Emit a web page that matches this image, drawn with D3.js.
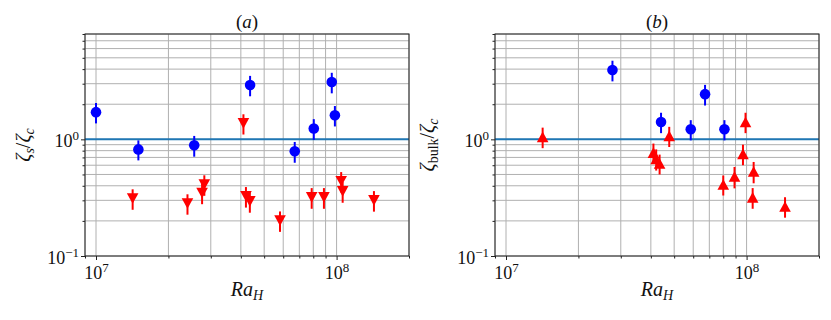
<!DOCTYPE html>
<html>
<head>
<meta charset="utf-8">
<script src="https://cdn.jsdelivr.net/npm/d3@7"></script>
<style>
  body { margin: 0; background: #fff; }
</style>
</head>
<body>
<div id="chart"></div>
<script>
// panel (a): zeta_s / zeta_c
var blueAx = [1.0e7, 1.5e7, 2.56e7, 4.37e7, 6.7e7, 8.04e7, 9.55e7, 9.84e7];
var blueAy = [1.71, 0.82, 0.89, 2.92, 0.79, 1.24, 3.1, 1.61];
var blueAerr = [0.34, 0.16, 0.18, 0.58, 0.16, 0.25, 0.62, 0.32];
var redAx = [1.42e7, 2.40e7, 2.76e7, 2.82e7, 4.1e7, 4.2e7, 4.36e7, 5.82e7, 7.88e7, 8.86e7, 1.045e8, 1.06e8, 1.43e8];
var redAy = [0.311, 0.282, 0.347, 0.41, 1.37, 0.325, 0.294, 0.201, 0.318, 0.318, 0.437, 0.358, 0.30];
var redAerr = [0.062, 0.056, 0.069, 0.082, 0.27, 0.065, 0.059, 0.04, 0.064, 0.064, 0.087, 0.072, 0.06];

// panel (b): zeta_bulk / zeta_c
var blueBx = [2.77e7, 4.41e7, 5.86e7, 6.72e7, 8.09e7];
var blueBy = [3.93, 1.41, 1.22, 2.44, 1.22];
var blueBerr = [0.79, 0.28, 0.24, 0.49, 0.24];
var redBx = [1.42e7, 4.10e7, 4.21e7, 4.35e7, 4.77e7, 8.0e7, 8.91e7, 9.66e7, 9.9e7, 1.06e8, 1.07e8, 1.445e8];
var redBy = [1.05, 0.77, 0.68, 0.62, 1.07, 0.41, 0.48, 0.75, 1.41, 0.318, 0.53, 0.266];
var redBerr = [0.21, 0.15, 0.14, 0.12, 0.21, 0.08, 0.1, 0.15, 0.28, 0.064, 0.11, 0.053];

var xDomain = [9e6, 2e8];
var yDomain = [0.1, 8];
var xMajor = [1e7, 1e8];
var xMajorExp = ["7", "8"];
var yMajor = [0.1, 1];
var yMajorExp = ["\u22121", "0"];
var refLine = 1;

var serif = "'Liberation Serif', 'Times New Roman', 'DejaVu Serif', serif";

var svgWidth = 831, svgHeight = 320;
var svg = d3.select("#chart").append("svg")
    .attr("width", svgWidth)
    .attr("height", svgHeight)
    .style("font-family", serif);

var panels = [
  {left: 85, title: "a", ylab: "s", labX: 30,
   blue: [blueAx, blueAy, blueAerr], red: [redAx, redAy, redAerr], down: true},
  {left: 495, title: "b", ylab: "bulk", labX: 434,
   blue: [blueBx, blueBy, blueBerr], red: [redBx, redBy, redBerr], down: false}
];
var plotTop = 34, height = 222, width = 324;

function zip(s) {
  return s[0].map((v, i) => ({x: v, y: s[1][i], e: s[2][i]}));
}

panels.forEach((p, pi) => {
  var x = d3.scaleLog().domain(xDomain).range([0, width]);
  var y = d3.scaleLog().domain(yDomain).range([height, 0]);
  var g = svg.append("g").attr("transform", `translate(${p.left}, ${plotTop})`);

  g.append("clipPath").attr("id", "clip" + pi)
    .append("rect").attr("width", width).attr("height", height);

  // grid, major and minor
  g.append("g").selectAll("line").data(x.ticks()).enter().append("line")
    .attr("x1", d => x(d)).attr("x2", d => x(d))
    .attr("y1", 0).attr("y2", height)
    .attr("stroke", "#b0b0b0").attr("stroke-width", 1);
  g.append("g").selectAll("line").data(y.ticks()).enter().append("line")
    .attr("y1", d => y(d)).attr("y2", d => y(d))
    .attr("x1", 0).attr("x2", width)
    .attr("stroke", "#b0b0b0").attr("stroke-width", 1);

  // axes ticks
  var minorX = x.ticks().filter(d => xMajor.indexOf(d) < 0);
  var minorY = y.ticks().filter(d => yMajor.indexOf(d) < 0);
  g.append("g").attr("transform", `translate(0, ${height})`)
    .call(d3.axisBottom(x).tickValues(minorX).tickSize(2.5).tickFormat(""))
    .call(a => a.select(".domain").remove());
  g.append("g")
    .call(d3.axisLeft(y).tickValues(minorY).tickSize(2.5).tickFormat(""))
    .call(a => a.select(".domain").remove());
  var xa = g.append("g").attr("transform", `translate(0, ${height})`)
    .call(d3.axisBottom(x).tickValues(xMajor).tickSize(4).tickFormat(""));
  xa.select(".domain").remove();
  xa.selectAll(".tick").append("text")
    .attr("y", 23).attr("text-anchor", "middle").attr("font-size", 18)
    .attr("fill", "#111").attr("font-family", serif)
    .call(t => {
      t.append("tspan").text("10");
      t.append("tspan").attr("dy", -7).attr("font-size", 13).text((d, i) => xMajorExp[i]);
    });
  var ya = g.append("g")
    .call(d3.axisLeft(y).tickValues(yMajor).tickSize(4).tickFormat(""));
  ya.select(".domain").remove();
  ya.selectAll(".tick").append("text")
    .attr("x", -6).attr("y", 7).attr("text-anchor", "end").attr("font-size", 18)
    .attr("fill", "#111").attr("font-family", serif)
    .call(t => {
      t.append("tspan").text("10");
      t.append("tspan").attr("dy", -7).attr("font-size", 13).text((d, i) => yMajorExp[i]);
    });
  g.selectAll(".tick line").attr("stroke", "#222");

  // reference line at 1
  g.append("line")
    .attr("x1", 0).attr("x2", width)
    .attr("y1", y(refLine)).attr("y2", y(refLine))
    .attr("stroke", "#1f77b4").attr("stroke-width", 2);

  var plot = g.append("g").attr("clip-path", `url(#clip${pi})`);

  function errbars(data, color) {
    plot.append("g").selectAll("line").data(data).enter().append("line")
      .attr("x1", d => x(d.x)).attr("x2", d => x(d.x))
      .attr("y1", d => y(d.y + d.e)).attr("y2", d => y(d.y - d.e))
      .attr("stroke", color).attr("stroke-width", 2);
  }
  var blue = zip(p.blue), red = zip(p.red);
  errbars(blue, "blue");
  errbars(red, "red");

  plot.append("g").selectAll("circle").data(blue).enter().append("circle")
    .attr("cx", d => x(d.x)).attr("cy", d => y(d.y))
    .attr("r", 5.3).attr("fill", "blue");

  var tri = p.down ? "M-5.8,-5.3L5.8,-5.3L0,5.3Z" : "M-5.8,5.3L5.8,5.3L0,-5.3Z";
  plot.append("g").selectAll("path").data(red).enter().append("path")
    .attr("d", tri)
    .attr("transform", d => `translate(${x(d.x)}, ${y(d.y)})`)
    .attr("fill", "red");

  // frame
  g.append("rect").attr("width", width).attr("height", height)
    .attr("fill", "none").attr("stroke", "#222").attr("stroke-width", 1);

  // title
  svg.append("text")
    .attr("x", p.left + width / 2).attr("y", 28)
    .attr("text-anchor", "middle").attr("font-size", 19).attr("fill", "#111")
    .text("(")
    .call(t => {
      t.append("tspan").attr("font-style", "italic").text(p.title);
      t.append("tspan").text(")");
    });

  // x label
  svg.append("text")
    .attr("x", p.left + width / 2).attr("y", 296)
    .attr("text-anchor", "middle").attr("font-size", 20).attr("font-style", "italic")
    .attr("fill", "#111")
    .text("Ra")
    .call(t => t.append("tspan").attr("dy", 4).attr("font-size", 14).text("H"));

  // y label
  svg.append("text")
    .attr("transform", `translate(${p.labX}, ${plotTop + height / 2}) rotate(-90)`)
    .attr("text-anchor", "middle").attr("font-size", 20).attr("fill", "#111")
    .call(t => {
      t.append("tspan").attr("font-style", "italic").text("\u03b6");
      t.append("tspan").attr("dy", 4).attr("font-size", 14)
        .attr("font-style", p.ylab === "s" ? "italic" : "normal").text(p.ylab);
      t.append("tspan").attr("dy", -4).text("/");
      t.append("tspan").attr("font-style", "italic").text("\u03b6");
      t.append("tspan").attr("dy", 4).attr("font-size", 14).attr("font-style", "italic").text("c");
    });
});
</script>
</body>
</html>
